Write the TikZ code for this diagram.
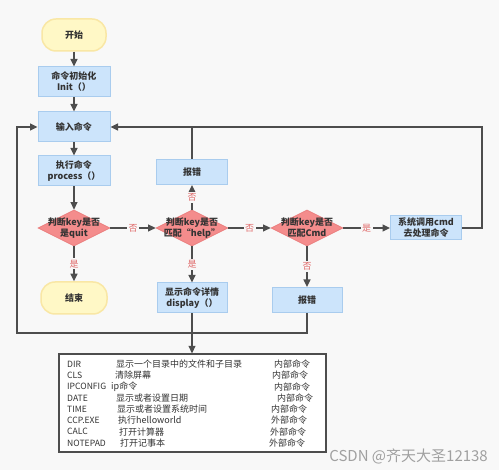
\documentclass[tikz,border=0pt]{standalone}
\usepackage{fontspec}
\setmainfont{Noto Sans CJK SC}
\usetikzlibrary{shapes.geometric,arrows.meta}
\definecolor{bgc}{HTML}{F8F8F8}
\definecolor{bluef}{HTML}{CCE4FB}
\definecolor{blued}{HTML}{A9CCEE}
\definecolor{yelf}{HTML}{FFF8C6}
\definecolor{yeld}{HTML}{F9E7A5}
\definecolor{redf}{HTML}{F48C8C}
\definecolor{redd}{HTML}{EB7E7E}
\definecolor{txtc}{HTML}{333333}
\definecolor{linec}{HTML}{4D4D4D}
\definecolor{labc}{HTML}{E06A6A}
\definecolor{wmc}{HTML}{A0A0A0}
\tikzset{
  every node/.style={text=txtc},
  bfont/.style={font=\fontsize{9}{11}\selectfont\bfseries, align=center},
  procbox/.style={bfont, draw=blued, fill=bluef, line width=1pt, minimum width=72pt, minimum height=30pt, inner sep=0pt},
  smallbox/.style={procbox, minimum height=25pt},
  termbox/.style={bfont, draw=yeld, fill=yelf, line width=1.5pt, minimum width=64pt, minimum height=32pt, rounded corners=14pt, inner sep=0pt},
  decide/.style={diamond, draw=redd, fill=redf, line width=0.8pt, minimum width=72pt, minimum height=36pt, inner sep=0pt, aspect=2},
  conn/.style={draw=linec, line width=1.3pt},
  arr/.style={conn, -{Triangle[length=7.5pt,width=7pt]}},
  lab/.style={font=\fontsize{9}{10}\selectfont, text=labc, fill=bgc, inner sep=1.5pt},
  row/.style={font=\fontsize{9}{10}\selectfont, anchor=west, inner sep=0pt},
  rowl/.style={row, font=\fontsize{8.6}{10}\selectfont},
}
\begin{document}
\begin{tikzpicture}[x=1pt,y=-1pt]
\fill[bgc] (0,0) rectangle (499,470);
\useasboundingbox (0,0) rectangle (499,470);

\node[termbox] (start) at (74,35) {开始};
\node[procbox] (init) at (74,82) {命令初始化\\Init（）};
\node[procbox] (input) at (74,127) {输入命令};
\node[procbox] (proc) at (74,171) {执行命令\\process（）};
\node[decide] (quit) at (74,228) {};
\node[bfont] (quitt) at (quit) {判断key是否\\是quit};
\node[termbox, minimum width=66pt] (end) at (74,298) {结束};

\node[decide] (help) at (192,228) {};
\node[bfont] (helpt) at (help) {判断key是否\\匹配“help”};
\node[smallbox, minimum width=71pt] (err1) at (192,172) {报错};
\node[procbox, minimum width=70pt] (disp) at (192,298) {显示命令详情\\display（）};

\node[decide] (cmd) at (307,228) {};
\node[bfont] (cmdt) at (cmd) {判断key是否\\匹配Cmd};
\node[smallbox, minimum width=70pt] (err2) at (307,300) {报错};

\node[procbox, minimum width=71pt, minimum height=24pt] (sys) at (426,228) {系统调用cmd\\去处理命令};

\node[draw=linec, fill=white, line width=1.3pt, minimum width=267pt, minimum height=98pt, inner sep=0pt] (tab) at (192.5,403) {};

\coordinate (rtop) at (482,127);
\coordinate (rbot) at (482,228);
\coordinate (htop) at (192,127);
\coordinate (lb) at (17,333);
\coordinate (lt) at (17,127);
\coordinate (eb) at (307,333);

% connectors
\draw[arr] (start) -- (init);
\draw[arr] (init) -- (input);
\draw[arr] (input) -- (proc);
\draw[arr] (proc) -- (quit);
\draw[arr] (quit) -- node[lab]{是} (end);
\draw[arr] (quit) -- node[lab]{否} (help);
\draw[arr] (help) -- node[lab]{否} (err1);
\draw[arr] (help) -- node[lab]{是} (disp);
\draw[arr] (help) -- node[lab]{否} (cmd);
\draw[arr] (cmd) -- node[lab]{是} (sys);
\draw[arr] (cmd) -- node[lab]{否} (err2);
\draw[arr] (sys.east) -- (rbot) -- (rtop) -- (input.east);
\draw[conn] (err1.north) -- (htop);
\draw[arr] (err2.south) -- (eb) -- (lb) -- (lt) -- (input.west);
\draw[arr] (disp.south) -- (tab.north -| disp.south);

% table rows
\foreach \n/\a/\xb/\b/\xc/\c [count=\i from 0] in {
  DIR/67/116/显示一个目录中的文件和子目录/274/内部命令,
  CLS/67/115/清除屏幕/272/内部命令,
  IPCONFIG/67/111/ip命令/274/内部命令,
  DATE/67/116/显示或者设置日期/277/内部命令,
  TIME/67/117/显示或者设置系统时间/271/内部命令,
  CCP.EXE/67/118/执行helloworld/271/外部命令,
  CALC/67/119/打开计算器/270/外部命令,
  NOTEPAD/67/120/打开记事本/269/外部命令}{
  \node[rowl] (r\i a) at (\a,364+\i*11.3) {\n};
  \node[row] (r\i b) at (\xb,364+\i*11.3) {\b};
  \node[row] (r\i c) at (\xc,364+\i*11.3) {\c};
}

\node[anchor=east, font=\fontsize{15}{16}\selectfont, text=wmc, inner sep=0pt] (wm) at (488,456) {CSDN @齐天大圣12138};
\end{tikzpicture}
\end{document}
